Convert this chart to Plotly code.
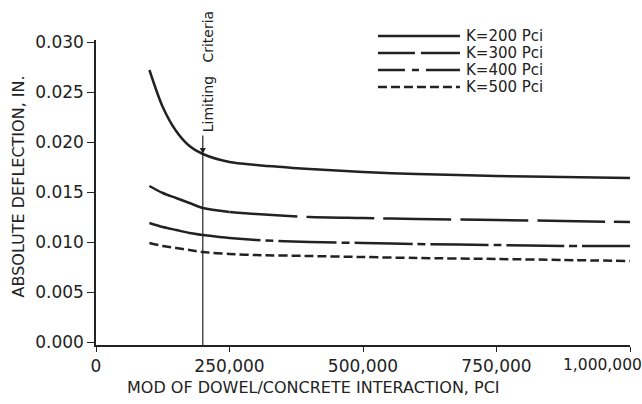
import plotly.graph_objects as go

# ---- data ----
mod_pci = [100000, 125000, 150000, 175000, 200000, 250000, 300000, 400000,
           500000, 600000, 750000, 875000, 1000000]
k200 = [0.0272, 0.0235, 0.0211, 0.0196, 0.0188, 0.0180, 0.0177, 0.0173,
        0.0170, 0.0168, 0.0166, 0.0165, 0.0164]
k300 = [0.0156, 0.0149, 0.0144, 0.0139, 0.0134, 0.0130, 0.0128, 0.0125,
        0.0124, 0.0123, 0.0122, 0.0121, 0.0120]
k400 = [0.0119, 0.0115, 0.0112, 0.0109, 0.0107, 0.0104, 0.0102, 0.0100,
        0.0099, 0.0098, 0.0097, 0.0096, 0.0096]
k500 = [0.0099, 0.0096, 0.0094, 0.0092, 0.0090, 0.0088, 0.0087, 0.0086,
        0.0085, 0.0084, 0.0083, 0.0082, 0.0081]
series_names = ["K=200\u00a0Pci", "K=300\u00a0Pci", "K=400\u00a0Pci", "K=500\u00a0Pci"]

x_tickvals = [0, 250000, 500000, 750000, 1000000]
x_ticktext = ["0", "250,000", "500,000", "750,000", ""]
last_x_label = "1,000,000"
y_tickvals = [0.000, 0.005, 0.010, 0.015, 0.020, 0.025, 0.030]

limit_x = 200000          # limiting criteria
limit_y = 0.0188          # where the arrow meets the K=200 curve
k300_solid_until = 250000
k400_solid_until = 200000

INK = "#222222"
FONT = "DejaVu Sans"
W = 2.5

# line styles (plot) and legend sample styles
plot_dash = ["solid", "68px,9px", "58px,5px,8px,5px", "9px,4px"]
legend_dash = ["solid", "37px,6px,200px", "27px,7px,7px,7px,200px", "9px,4px"]


def split(xs, ys, until):
    a = [(x, y) for x, y in zip(xs, ys) if x <= until]
    b = [(x, y) for x, y in zip(xs, ys) if x >= until]
    return [p[0] for p in a], [p[1] for p in a], [p[0] for p in b], [p[1] for p in b]


def line(dash="solid"):
    return dict(color=INK, width=W, shape="spline", smoothing=0.8, dash=dash)


fig = go.Figure()
fig.add_trace(go.Scatter(x=mod_pci, y=k200, mode="lines", name=series_names[0],
                         line=line(plot_dash[0])))

xa, ya, xb, yb = split(mod_pci, k300, k300_solid_until)
fig.add_trace(go.Scatter(x=xa, y=ya, mode="lines", name=series_names[1], line=line()))
fig.add_trace(go.Scatter(x=xb, y=yb, mode="lines", name=series_names[1], line=line(plot_dash[1])))

xa, ya, xb, yb = split(mod_pci, k400, k400_solid_until)
fig.add_trace(go.Scatter(x=xa, y=ya, mode="lines", name=series_names[2], line=line()))
fig.add_trace(go.Scatter(x=xb, y=yb, mode="lines", name=series_names[2], line=line(plot_dash[2])))

fig.add_trace(go.Scatter(x=mod_pci, y=k500, mode="lines", name=series_names[3],
                         line=line(plot_dash[3])))

# hand-drawn style legend (top right)
leg_x0, leg_x1, leg_tx = 0.528, 0.6816, 0.690
leg_rows = [1.0131, 0.957, 0.9016, 0.8459]
for name, dash, ly in zip(series_names, legend_dash, leg_rows):
    fig.add_shape(type="line", xref="paper", yref="paper", x0=leg_x0, x1=leg_x1,
                  y0=ly, y1=ly, line=dict(color=INK, width=W, dash=dash))
    fig.add_annotation(x=leg_tx, y=ly, xref="paper", yref="paper", text=name,
                       showarrow=False, xanchor="left", yanchor="middle",
                       font=dict(family=FONT, size=15, color=INK))

# limiting criteria line + arrow + label
fig.add_shape(type="line", x0=limit_x, x1=limit_x, y0=-0.0003, y1=limit_y,
              xref="x", yref="y", line=dict(color=INK, width=1.2))
fig.add_annotation(x=limit_x, y=limit_y, xref="x", yref="y", text="", showarrow=True,
                   ax=0, ay=-20, arrowhead=2, arrowsize=1, arrowwidth=1.2, arrowcolor=INK)
fig.add_annotation(x=limit_x, y=limit_y, xref="x", yref="y",
                   text="Limiting\u00a0\u00a0\u00a0Criteria", textangle=-90, showarrow=False,
                   xanchor="center", yanchor="bottom", xshift=5, yshift=20,
                   font=dict(family=FONT, size=14, color=INK))

# axis titles
fig.add_annotation(x=0.408, y=-0.14, xref="paper", yref="paper",
                   text="MOD OF DOWEL/CONCRETE INTERACTION, PCI", showarrow=False,
                   xanchor="center", yanchor="middle",
                   font=dict(family=FONT, size=16, color=INK))
fig.add_annotation(x=-0.146, y=0.52, xref="paper", yref="paper",
                   text="ABSOLUTE DEFLECTION, IN.", textangle=-90, showarrow=False,
                   xanchor="center", yanchor="middle",
                   font=dict(family=FONT, size=16, color=INK))
# last x tick label, pulled left like in the reference
fig.add_annotation(x=x_tickvals[-1], y=0, xref="x", yref="paper", text=last_x_label,
                   showarrow=False, xanchor="right", yanchor="top", xshift=14, yshift=-9,
                   font=dict(family=FONT, size=15.5, color=INK))

fig.update_layout(
    width=642, height=404,
    margin=dict(l=96, r=12, t=40, b=59),
    paper_bgcolor="white", plot_bgcolor="white",
    font=dict(family=FONT, color=INK, size=15),
    showlegend=False,
)
fig.update_xaxes(range=[0, 1000000], tickvals=x_tickvals, ticktext=x_ticktext,
                 showgrid=False, zeroline=False, showline=True, linecolor=INK, linewidth=1.5,
                 ticks="outside", ticklen=5, tickcolor=INK, tickwidth=1.2,
                 tickfont=dict(family=FONT, size=17, color=INK))
fig.update_yaxes(range=[-0.0003, 0.0302], tickvals=y_tickvals, tickformat=".3f",
                 showgrid=False, zeroline=False, showline=True, linecolor=INK, linewidth=1.5,
                 ticks="outside", ticklen=7, tickcolor=INK, tickwidth=1.2,
                 tickfont=dict(family=FONT, size=17, color=INK))

fig.write_html("out.html", config={"displayModeBar": False},
               post_script="document.body.style.margin='0';")
